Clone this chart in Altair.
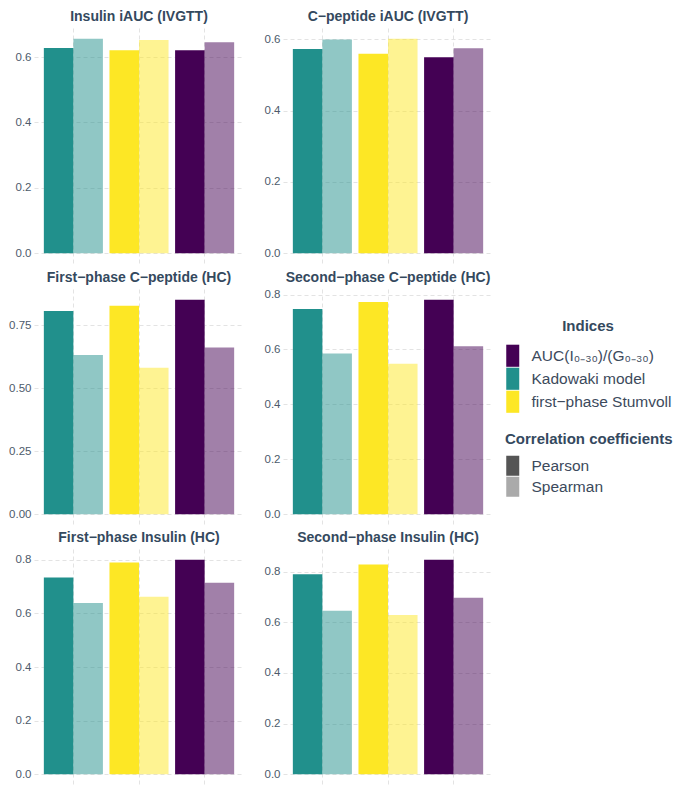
import altair as alt
import pandas as pd

# ---------------- data ----------------
panels = [
    "Insulin iAUC (IVGTT)",
    "C−peptide iAUC (IVGTT)",
    "First−phase C−peptide (HC)",
    "Second−phase C−peptide (HC)",
    "First−phase Insulin (HC)",
    "Second−phase Insulin (HC)",
]
indices_x = ["Kadowaki model", "first−phase Stumvoll", "AUC(I₀₋₃₀)/(G₀₋₃₀)"]
legend_order = ["AUC(I₀₋₃₀)/(G₀₋₃₀)", "Kadowaki model", "first−phase Stumvoll"]
index_colors = ["#440154", "#21908C", "#FDE725"]
coefs = ["Pearson", "Spearman"]

# values per panel, in order of indices_x (Kadowaki, Stumvoll, AUC)
pearson = [
    [0.628, 0.621, 0.621],
    [0.573, 0.560, 0.550],
    [0.806, 0.827, 0.851],
    [0.747, 0.773, 0.781],
    [0.734, 0.790, 0.800],
    [0.790, 0.828, 0.847],
]
spearman = [
    [0.656, 0.652, 0.645],
    [0.600, 0.602, 0.575],
    [0.632, 0.581, 0.662],
    [0.585, 0.548, 0.612],
    [0.639, 0.662, 0.714],
    [0.646, 0.629, 0.697],
]
y_ticks = [
    [0.0, 0.2, 0.4, 0.6],
    [0.0, 0.2, 0.4, 0.6],
    [0.0, 0.25, 0.5, 0.75],
    [0.0, 0.2, 0.4, 0.6, 0.8],
    [0.0, 0.2, 0.4, 0.6, 0.8],
    [0.0, 0.2, 0.4, 0.6, 0.8],
]
y_formats = [".1f", ".1f", ".2f", ".1f", ".1f", ".1f"]

# ---------------- style ----------------
FONT = "Liberation Sans"
TITLE_COLOR = "#34495e"
LABEL_COLOR = "#4d5b6b"
GRID_COLOR = "#e3e3e3"

color_legend = alt.Legend(
    title="Indices", orient="none", legendX=471, legendY=291,
    titleAnchor="middle", titleFontSize=15, titleFontWeight="bold",
    titleColor=TITLE_COLOR, titleFont=FONT, titlePadding=14,
    labelFontSize=15.5, labelColor="#3c4a5c", labelFont=FONT,
    symbolType="M-1,-1.7H1V1.7H-1Z", symbolSize=169,
    symbolStrokeWidth=0, rowPadding=0, labelOffset=11,
)
opacity_legend = alt.Legend(
    title="Correlation coefficients", orient="none", legendX=471, legendY=404,
    titleFontSize=15, titleFontWeight="bold", titleColor=TITLE_COLOR,
    titleFont=FONT, titlePadding=11,
    labelFontSize=15.5, labelColor="#3c4a5c", labelFont=FONT,
    symbolType="M-1,-1.54H1V1.54H-1Z", symbolSize=169,
    symbolFillColor="#555555", symbolStrokeWidth=0, rowPadding=0, labelOffset=11,
)


def make_panel(i):
    rows = []
    for j, idx in enumerate(indices_x):
        rows.append({"index": idx, "coef": "Pearson", "value": pearson[i][j]})
        rows.append({"index": idx, "coef": "Spearman", "value": spearman[i][j]})
    df = pd.DataFrame(rows)
    ymax = max(max(pearson[i]), max(spearman[i]))
    return (
        alt.Chart(df)
        .mark_bar()
        .encode(
            x=alt.X(
                "index:N", sort=indices_x, title=None,
                scale=alt.Scale(paddingInner=0.1, paddingOuter=0.15),
                axis=alt.Axis(labels=False, ticks=False, domain=False, grid=True,
                              bandPosition=0.5, gridDash=[4, 3], gridColor=GRID_COLOR,
                              minExtent=0, maxExtent=0),
            ),
            xOffset=alt.XOffset("coef:N", sort=coefs,
                                scale=alt.Scale(paddingInner=0, paddingOuter=0)),
            y=alt.Y(
                "value:Q", title=None,
                scale=alt.Scale(domain=[-0.05 * ymax, 1.05 * ymax], nice=False, zero=False),
                axis=alt.Axis(values=y_ticks[i], format=y_formats[i], ticks=False,
                              domain=False, gridDash=[4, 3], gridColor=GRID_COLOR,
                              labelFontSize=11.5, labelColor=LABEL_COLOR, labelFont=FONT,
                              labelPadding=3),
            ),
            color=alt.Color("index:N", scale=alt.Scale(domain=legend_order, range=index_colors),
                            legend=color_legend),
            opacity=alt.Opacity("coef:N", scale=alt.Scale(domain=coefs, range=[1.0, 0.5]),
                                legend=opacity_legend),
        )
        .properties(
            width=210, height=236,
            title=alt.TitleParams(panels[i], fontSize=14, fontWeight="bold",
                                  color=TITLE_COLOR, font=FONT, anchor="middle", offset=4),
        )
    )


chart = (
    alt.concat(*[make_panel(i) for i in range(6)], columns=2, spacing={"row": 6, "column": 20})
    .properties(padding={"left": 0, "top": 2, "right": 0, "bottom": 0})
    .configure_view(stroke=None)
)

chart.save("out.html", embed_options={"renderer": "svg", "actions": False})
